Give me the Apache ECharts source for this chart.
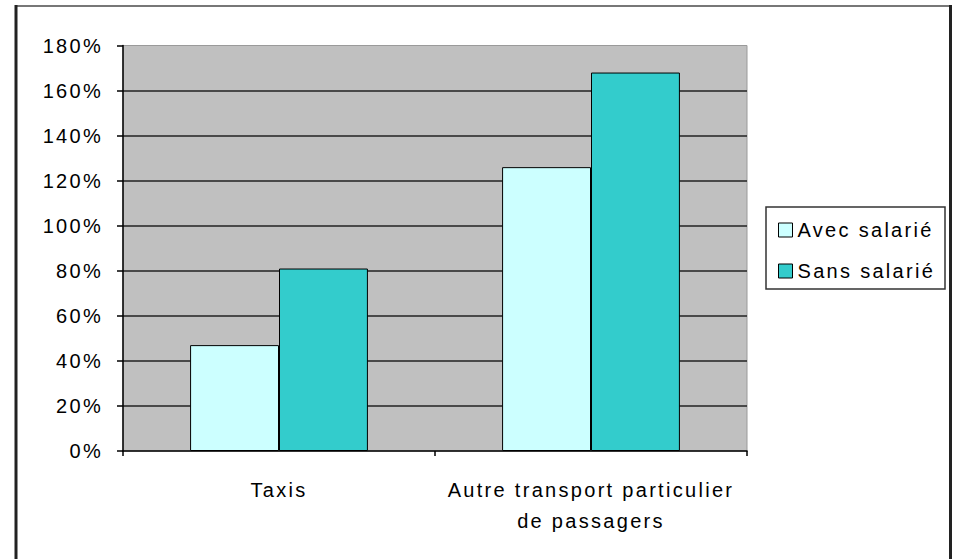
<!DOCTYPE html>
<html><head><meta charset="utf-8">
<script src="https://cdn.jsdelivr.net/npm/echarts@6/dist/echarts.min.js"></script>
<style>
html,body{margin:0;padding:0;background:#fff;}
#chart{width:953px;height:559px;}
#chart text{letter-spacing:2.3px;}
</style></head><body><div id="chart"></div>
<script>
// ---- data ----
const categories = ['Taxis', 'Autre transport particulier\nde passagers'];
const seriesNames = ['Avec salarié', 'Sans salarié'];
const avecSalarie = [47, 126];
const sansSalarie = [81, 168];
const yMin = 0, yMax = 180, yInterval = 20;
const colors = ['#CCFFFF', '#33CCCC'];

const FONT = "'Liberation Sans', Arial, sans-serif";
const chart = echarts.init(document.getElementById('chart'), null, {renderer: 'svg'});
chart.setOption({
  backgroundColor: '#ffffff',
  animation: false,
  textStyle: {fontFamily: FONT, color: '#000'},
  grid: {
    left: 123, right: 206, top: 45.5, bottom: 108,
    show: true, backgroundColor: '#C0C0C0', borderColor: '#9a9a9a', borderWidth: 1
  },
  legend: {
    orient: 'vertical', left: 778, top: 220, padding: 0,
    itemWidth: 14, itemHeight: 14, itemGap: 21,
    icon: 'rect',
    itemStyle: {borderColor: '#000', borderWidth: 1},
    textStyle: {fontFamily: FONT, fontSize: 20, color: '#000', lineHeight: 20},
    data: seriesNames
  },
  xAxis: {
    type: 'category', data: categories,
    axisLine: {show: true, lineStyle: {color: '#000', width: 1.5}},
    axisTick: {show: true, length: 5, lineStyle: {color: '#000', width: 1.5}},
    axisLabel: {fontFamily: FONT, fontSize: 20, color: '#000', lineHeight: 31, margin: 23, interval: 0},
    splitLine: {show: false}
  },
  yAxis: {
    type: 'value', min: yMin, max: yMax, interval: yInterval,
    axisLine: {show: true, lineStyle: {color: '#000', width: 1.5}},
    axisTick: {show: true, length: 6, lineStyle: {color: '#000', width: 1.5}},
    axisLabel: {fontFamily: FONT, fontSize: 20, color: '#000', margin: 20, formatter: '{value}%'},
    splitLine: {show: true, showMinLine: false, showMaxLine: false, lineStyle: {color: '#222', width: 1.5}}
  },
  series: [
    {name: seriesNames[0], type: 'bar', data: avecSalarie, barGap: '0%', barCategoryGap: '43%',
     itemStyle: {color: colors[0], borderColor: '#000', borderWidth: 1}},
    {name: seriesNames[1], type: 'bar', data: sansSalarie, barGap: '0%', barCategoryGap: '43%',
     itemStyle: {color: colors[1], borderColor: '#000', borderWidth: 1}}
  ],
  graphic: [
    {type: 'rect', silent: true, shape: {x: 766, y: 207, width: 179, height: 82},
     style: {fill: 'none', stroke: '#333', lineWidth: 1.5}, z: 10},
    {type: 'line', silent: true, shape: {x1: 16, y1: 6, x2: 950, y2: 6},
     style: {stroke: '#777', lineWidth: 2}},
    {type: 'line', silent: true, shape: {x1: 16, y1: 5, x2: 16, y2: 560},
     style: {stroke: '#222', lineWidth: 3}},
    {type: 'line', silent: true, shape: {x1: 950.5, y1: 5, x2: 950.5, y2: 560},
     style: {stroke: '#222', lineWidth: 3}}
  ]
});
</script></body></html>
